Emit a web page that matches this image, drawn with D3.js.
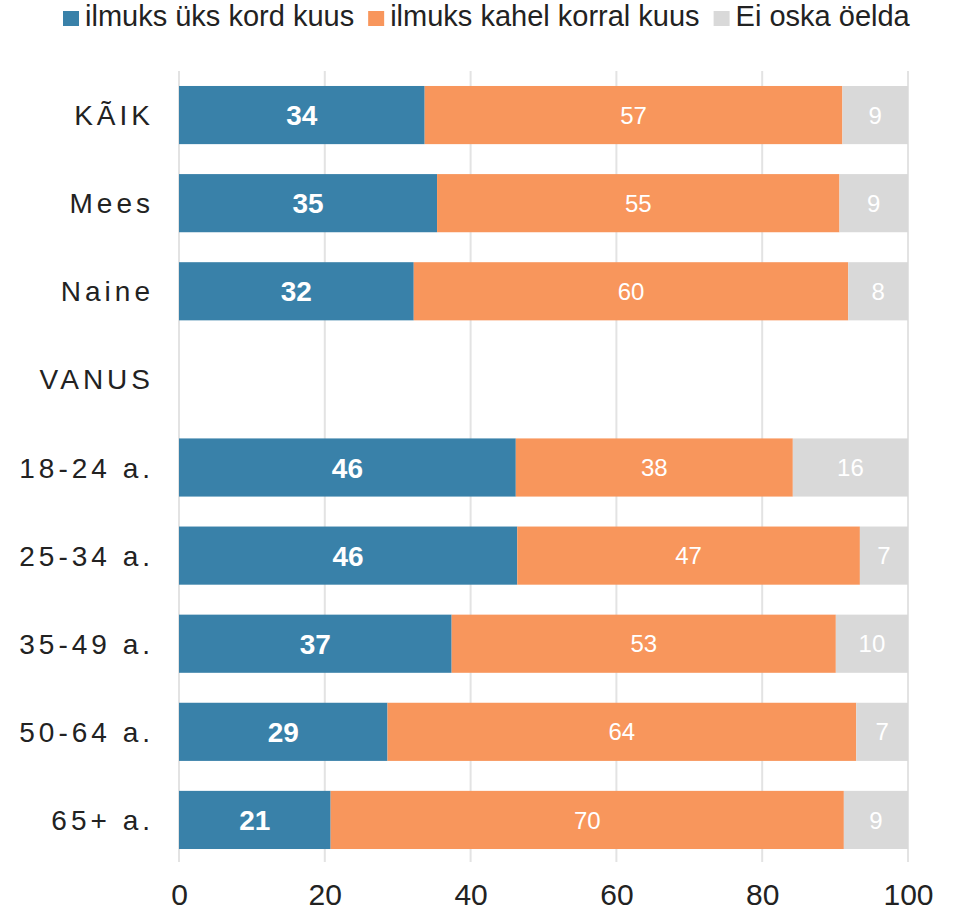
<!DOCTYPE html>
<html>
<head>
<meta charset="utf-8">
<script src="https://cdn.jsdelivr.net/npm/d3@7"></script>
<style>
  html, body { margin: 0; padding: 0; background: #fff; }
  svg { display: block; font-family: "Liberation Sans", Arial, Helvetica, sans-serif; }
</style>
</head>
<body>
<svg id="chart" width="955" height="912"></svg>
<script>
const categories = ["KÃIK", "Mees", "Naine", "VANUS", "18-24 a.", "25-34 a.", "35-49 a.", "50-64 a.", "65+ a."];
const seriesNames = ["ilmuks üks kord kuus", "ilmuks kahel korral kuus", "Ei oska öelda"];
const onceMonth  = [33.7, 35.4, 32.2, null, 46.2, 46.4, 37.4, 28.6, 20.8];
const twiceMonth = [57.3, 55.2, 59.6, null, 38.0, 47.0, 52.7, 64.3, 70.4];
const dontKnow   = [9.0, 9.4, 8.2, null, 15.8, 6.6, 9.9, 7.1, 8.8];
const xTicks = [0, 20, 40, 60, 80, 100];
const colors = ["#3981a9", "#f8965c", "#d9d9d9"];

const keys = ["once", "twice", "dk"];
const rows = categories.map((c, i) => ({
  cat: c,
  once: onceMonth[i] ?? 0,
  twice: twiceMonth[i] ?? 0,
  dk: dontKnow[i] ?? 0,
  empty: onceMonth[i] == null
}));

const svg = d3.select("#chart");
const x = d3.scaleLinear().domain([0, 100]).range([179, 908]);
const y = d3.scaleBand().domain(categories).range([71, 864]).paddingInner(0.34).paddingOuter(0.17);

// gridlines
svg.append("g").selectAll("line").data(xTicks).join("line")
  .attr("x1", d => x(d)).attr("x2", d => x(d))
  .attr("y1", 71).attr("y2", 862)
  .attr("stroke", "#e3e3e3").attr("stroke-width", 2);

// x axis tick labels
const xAxis = d3.axisBottom(x).tickValues(xTicks).tickSize(0).tickPadding(0);
const gx = svg.append("g").attr("transform", "translate(0,884)").call(xAxis);
gx.select(".domain").remove();
gx.selectAll("text").attr("font-size", 30).attr("fill", "#222")
  .attr("font-family", "'Liberation Sans', Arial, sans-serif").attr("dy", "0.71em");

// stacked bars
const stack = d3.stack().keys(keys)(rows.filter(r => !r.empty));
const layers = svg.append("g").selectAll("g").data(stack).join("g")
  .attr("fill", (d, i) => colors[i]);
layers.selectAll("rect").data(d => d).join("rect")
  .attr("x", d => x(d[0]))
  .attr("width", d => x(d[1]) - x(d[0]))
  .attr("y", d => y(d.data.cat))
  .attr("height", y.bandwidth());

// value labels
stack.forEach((layer, li) => {
  svg.append("g").selectAll("text").data(layer).join("text")
    .attr("x", d => (x(d[0]) + x(d[1])) / 2)
    .attr("y", d => y(d.data.cat) + y.bandwidth() / 2)
    .attr("dy", "0.36em")
    .attr("text-anchor", "middle")
    .attr("fill", "#fff")
    .attr("font-size", li === 0 ? 28 : 24)
    .attr("font-weight", li === 0 ? "bold" : "normal")
    .text(d => Math.round(d[1] - d[0]));
});

// category labels
const yAxis = d3.axisLeft(y).tickSize(0).tickPadding(0);
const gy = svg.append("g").attr("transform", "translate(154,0)").call(yAxis);
gy.select(".domain").remove();
gy.selectAll("text").attr("font-size", 28).attr("fill", "#222")
  .attr("letter-spacing", "4px")
  .attr("font-family", "'Liberation Sans', Arial, sans-serif")
  .attr("dy", "0.36em");

// legend
const legend = svg.append("g");
let lx = 63;
seriesNames.forEach((name, i) => {
  legend.append("rect").attr("x", lx).attr("y", 11).attr("width", 16).attr("height", 15).attr("fill", colors[i]);
  const t = legend.append("text").attr("x", lx + 22).attr("y", 26)
    .attr("font-size", 29).attr("fill", "#222").text(name);
  lx = lx + 22 + t.node().getComputedTextLength() + 14;
});
</script>
</body>
</html>
